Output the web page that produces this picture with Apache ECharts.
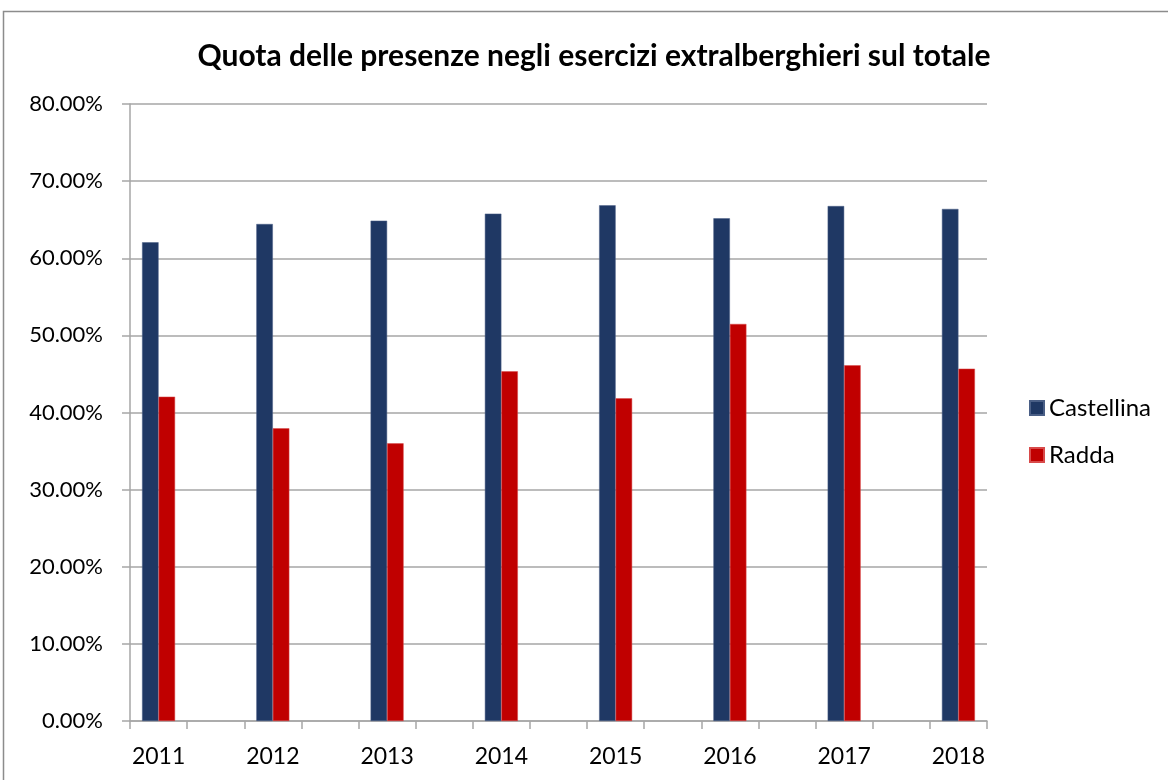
<!DOCTYPE html>
<html>
<head>
<meta charset="utf-8">
<script src="https://cdn.jsdelivr.net/npm/echarts@6/dist/echarts.min.js"></script>
<style>
  html, body { margin: 0; padding: 0; background: #fff; }
  #chart { width: 1168px; height: 780px; }
</style>
</head>
<body>
<div id="chart"></div>
<script>
// Share of overnight stays in non-hotel accommodation (%)
const years = ['2011', '2012', '2013', '2014', '2015', '2016', '2017', '2018'];
const castellina = [62.07, 64.44, 64.87, 65.78, 66.86, 65.18, 66.77, 66.39];
const radda = [42.05, 37.95, 36.0, 45.34, 41.84, 51.48, 46.12, 45.68];
const yTicks = [0, 10, 20, 30, 40, 50, 60, 70, 80];

// Each year is followed by an empty slot on the category axis
function spread(arr, blank) {
  const out = [];
  arr.forEach((v, i) => {
    out.push(v);
    if (i < arr.length - 1) out.push(blank);
  });
  return out;
}

const categories = spread(years, '');
const font = 'Lato, "Open Sans", sans-serif';
const gridColor = '#a6a6a6';

const chart = echarts.init(document.getElementById('chart'));
chart.setOption({
  animation: false,
  backgroundColor: '#fff',
  title: {
    text: 'Quota delle presenze negli esercizi extralberghieri sul totale',
    left: 589,
    textAlign: 'center',
    top: 36,
    textStyle: { fontFamily: font, fontWeight: 'bold', fontSize: 30, color: '#000' }
  },
  graphic: [{
    type: 'rect',
    shape: { x: 3.5, y: 11.5, width: 1300, height: 900 },
    style: { fill: 'none', stroke: '#8c8c8c', lineWidth: 1.5 },
    silent: true
  }],
  legend: {
    orient: 'vertical',
    left: 1024,
    top: 391,
    itemWidth: 14,
    itemHeight: 14,
    itemGap: 23,
    icon: 'rect',
    textStyle: { fontFamily: font, fontSize: 24, color: '#000' },
    data: ['Castellina', 'Radda']
  },
  grid: { left: 130, right: 181, top: 104, bottom: 59, containLabel: false },
  xAxis: {
    type: 'category',
    data: categories,
    axisLine: { lineStyle: { color: gridColor, width: 1.5 } },
    axisTick: { show: true, interval: 0, length: 8, lineStyle: { color: gridColor, width: 1.5 } },
    axisLabel: { interval: 0, fontFamily: font, fontSize: 23, color: '#000', margin: 24 }
  },
  yAxis: {
    type: 'value',
    min: yTicks[0],
    max: yTicks[yTicks.length - 1],
    interval: yTicks[1] - yTicks[0],
    axisLine: { show: true, lineStyle: { color: gridColor, width: 1.5 } },
    axisTick: { show: true, length: 8, lineStyle: { color: gridColor, width: 1.5 } },
    splitLine: { lineStyle: { color: gridColor, width: 1.5 } },
    axisLabel: {
      fontFamily: font, fontSize: 22, color: '#000', margin: 27,
      formatter: v => v.toFixed(2) + '%'
    }
  },
  series: [
    {
      name: 'Castellina',
      type: 'bar',
      data: spread(castellina, '-'),
      barWidth: 16.5,
      barGap: '0%',
      itemStyle: { color: '#1f3864', borderColor: '#4a5f86', borderWidth: 0.5 }
    },
    {
      name: 'Radda',
      type: 'bar',
      data: spread(radda, '-'),
      barWidth: 16.5,
      barGap: '0%',
      itemStyle: { color: '#c00000', borderColor: '#d84a4a', borderWidth: 0.5 }
    }
  ]
});
</script>
</body>
</html>
